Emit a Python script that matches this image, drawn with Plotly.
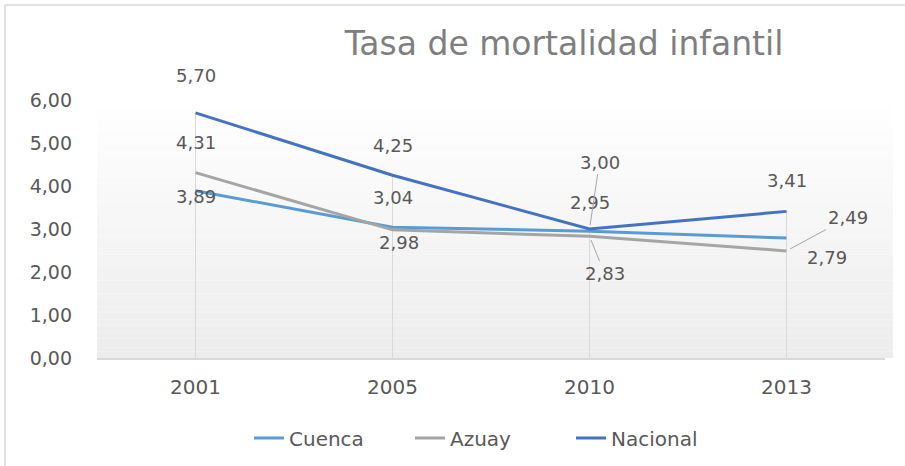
import plotly.graph_objects as go

years = ["2001", "2005", "2010", "2013"]
cuenca = [3.89, 3.04, 2.95, 2.79]
azuay = [4.31, 2.98, 2.83, 2.49]
nacional = [5.70, 4.25, 3.00, 3.41]
y_ticks = [0, 1, 2, 3, 4, 5, 6]

series = [
    ("Cuenca", cuenca, "#5b9bd5"),
    ("Azuay", azuay, "#a5a5a5"),
    ("Nacional", nacional, "#4472c4"),
]

FONT = "DejaVu Sans"
TXT = "#595959"

fig = go.Figure()

# drop lines
for i, yr in enumerate(years):
    top = max(cuenca[i], azuay[i], nacional[i])
    fig.add_trace(go.Scatter(x=[yr, yr], y=[0, top], mode="lines",
                             line=dict(color="#d9d9d9", width=1),
                             showlegend=False, hoverinfo="skip"))

for name, vals, col in series:
    fig.add_trace(go.Scatter(x=years, y=vals, mode="lines", name=name,
                             line=dict(color=col, width=3)))

# label placement (pixel offsets) per series / point
label_cfg = {
    "Cuenca":   [(0, -6, None), (0, 30, None), (0, 29, None), (40, -19, None)],
    "Azuay":    [(0, 30, None), (6, -13, None), (15, -37, "arrow"), (61, 33, "arrow")],
    "Nacional": [(0, 37, None), (0, 30, None), (10, 67, "arrow"), (0, 31, None)],
}
annotations = []
for name, vals, col in series:
    for i, v in enumerate(vals):
        dx, dy, kind = label_cfg[name][i]
        txt = f"{v:.2f}".replace(".", ",")
        if kind == "arrow":
            annotations.append(dict(x=i, y=v, xref="x", yref="y", text=txt, showarrow=True,
                                    ax=dx, ay=-dy, arrowhead=0, arrowwidth=1,
                                    arrowcolor="#a6a6a6", standoff=4,
                                    font=dict(family=FONT, size=18, color=TXT)))
        else:
            annotations.append(dict(x=i, y=v, xref="x", yref="y", text=txt, showarrow=False,
                                    xshift=dx, yshift=dy,
                                    font=dict(family=FONT, size=18, color=TXT)))

# background gradient bands in plot area
shapes = []
n = 40
for k in range(n):
    y0 = k / n
    y1 = (k + 1) / n
    t = 1 - (y0 + y1) / 2  # 0 at top, 1 at bottom
    g = int(round(255 - (255 - 236) * t))
    shapes.append(dict(type="rect", xref="paper", yref="paper", x0=0, x1=1.01,
                       y0=y0, y1=y1, fillcolor=f"rgb({g},{g},{g})",
                       line=dict(width=0), layer="below"))
# outer border (top and left)
shapes.append(dict(type="line", xref="paper", yref="paper",
                   x0=(5 - 97) / 788, x1=(905 - 97) / 788,
                   y0=(358 - 5) / 258, y1=(358 - 5) / 258,
                   line=dict(color="#d9d9d9", width=1.5)))
shapes.append(dict(type="line", xref="paper", yref="paper",
                   x0=(5 - 97) / 788, x1=(5 - 97) / 788,
                   y0=(358 - 5) / 258, y1=(358 - 470) / 258,
                   line=dict(color="#d9d9d9", width=1.5)))

fig.update_layout(
    width=905, height=466,
    margin=dict(l=97, r=20, t=100, b=108, autoexpand=False),
    paper_bgcolor="white", plot_bgcolor="rgba(0,0,0,0)",
    separators=",.",
    title=dict(text="Tasa de mortalidad infantil", xref="container", yref="container",
               x=564 / 905, y=1 - 43 / 466, xanchor="center", yanchor="middle",
               font=dict(family=FONT, size=33, color="#7f7f7f")),
    xaxis=dict(type="category", range=[-0.5, 3.5], showgrid=False, zeroline=False,
               showline=True, linecolor="#d9d9d9", linewidth=1.5, ticks="",
               ticklabelstandoff=10, automargin=False,
               tickfont=dict(family=FONT, size=20, color=TXT)),
    yaxis=dict(range=[0, 6], tickvals=y_ticks, tickformat=".2f", showgrid=False,
               zeroline=False, showline=False, ticks="", ticklabelstandoff=24,
               automargin=False,
               tickfont=dict(family=FONT, size=19, color=TXT)),
    legend=dict(orientation="h", x=(249 - 97) / 788, xanchor="left",
                y=(358 - 438) / 258, yanchor="middle",
                entrywidth=116, entrywidthmode="pixels",
                font=dict(family=FONT, size=20, color=TXT)),
    shapes=shapes,
    annotations=annotations,
    showlegend=True,
)

fig.write_html("out.html", config={"displayModeBar": False},
               post_script="document.body.style.margin='0';document.body.style.overflow='hidden';")
